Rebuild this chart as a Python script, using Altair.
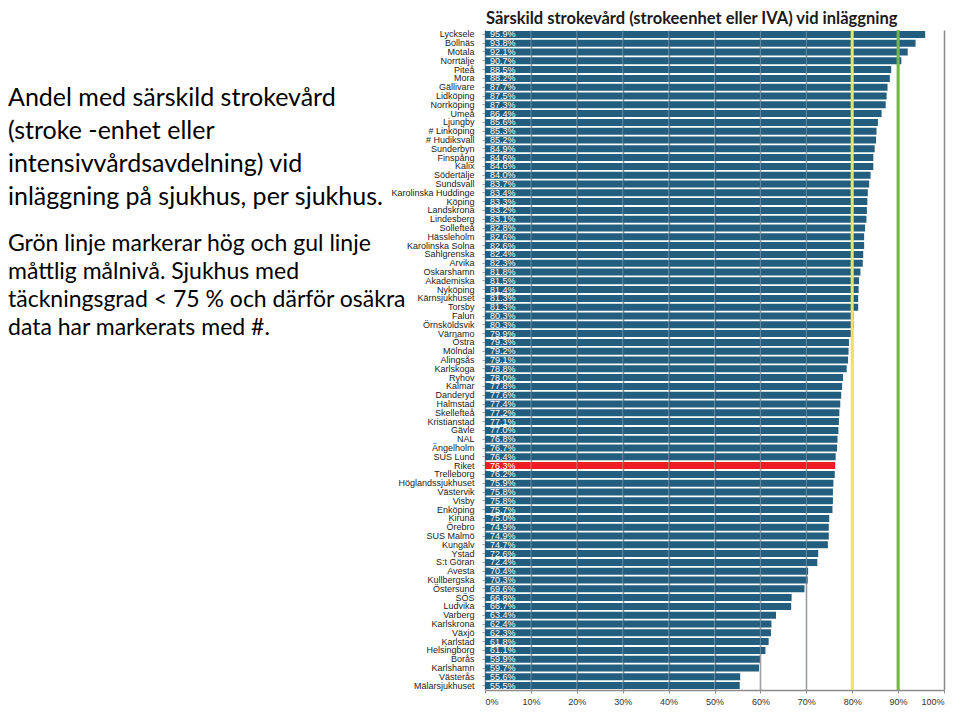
import altair as alt
import pandas as pd

hospitals = [
    "Lycksele", "Bollnäs", "Motala", "Norrtälje", "Piteå", "Mora", "Gällivare",
    "Lidköping", "Norrköping", "Umeå", "Ljungby", "# Linköping", "# Hudiksvall",
    "Sunderbyn", "Finspång", "Kalix", "Södertälje", "Sundsvall",
    "Karolinska Huddinge", "Köping", "Landskrona", "Lindesberg", "Sollefteå",
    "Hässleholm", "Karolinska Solna", "Sahlgrenska", "Arvika", "Oskarshamn",
    "Akademiska", "Nyköping", "Kärnsjukhuset", "Torsby", "Falun", "Örnsköldsvik",
    "Värnamo", "Östra", "Mölndal", "Alingsås", "Karlskoga", "Ryhov", "Kalmar",
    "Danderyd", "Halmstad", "Skellefteå", "Kristianstad", "Gävle", "NAL",
    "Ängelholm", "SUS Lund", "Riket", "Trelleborg", "Höglandssjukhuset",
    "Västervik", "Visby", "Enköping", "Kiruna", "Örebro", "SUS Malmö", "Kungälv",
    "Ystad", "S:t Göran", "Avesta", "Kullbergska", "Östersund", "SÖS", "Ludvika",
    "Varberg", "Karlskrona", "Växjö", "Karlstad", "Helsingborg", "Borås",
    "Karlshamn", "Västerås", "Mälarsjukhuset",
]
values = [
    95.9, 93.8, 92.1, 90.7, 88.5, 88.2, 87.7,
    87.5, 87.3, 86.4, 85.6, 85.3, 85.2,
    84.9, 84.6, 84.6, 84.0, 83.7,
    83.4, 83.3, 83.2, 83.1, 82.8,
    82.6, 82.6, 82.4, 82.3, 81.8,
    81.5, 81.4, 81.3, 81.3, 80.3, 80.3,
    79.9, 79.3, 79.2, 79.1, 78.8, 78.0, 77.8,
    77.6, 77.4, 77.2, 77.1, 77.0, 76.8,
    76.7, 76.4, 76.3, 76.2, 75.9,
    75.8, 75.8, 75.7, 75.0, 74.9, 74.9, 74.7,
    72.6, 72.4, 70.4, 70.3, 69.6, 66.8, 66.7,
    63.4, 62.4, 62.3, 61.8, 61.1, 59.9,
    59.7, 55.6, 55.5,
]
target_levels = ["måttlig", "hög"]
target_values = [80, 90]
tick_values = [0, 10, 20, 30, 40, 50, 60, 70, 80, 90, 100]

chart_title = "Särskild strokevård (strokeenhet eller IVA) vid inläggning"
side_text_1 = [
    "Andel med särskild strokevård",
    "(stroke -enhet eller",
    "intensivvårdsavdelning) vid",
    "inläggning på sjukhus, per sjukhus.",
]
side_text_2 = [
    "Grön linje markerar hög och gul linje",
    "måttlig målnivå. Sjukhus med",
    "täckningsgrad < 75 % och därför osäkra",
    "data har markerats med #.",
]

df = pd.DataFrame({"sjukhus": hospitals, "andel": values})
df["etikett"] = df["andel"].map(lambda v: f"{v:.1f}%")
targets = pd.DataFrame({"nivå": target_levels, "mål": target_values})
grid = pd.DataFrame({"t": tick_values[1:-1]})
one = pd.DataFrame({"a": [0]})

y = alt.Y(
    "sjukhus:N", sort=hospitals, title=None,
    scale=alt.Scale(paddingInner=0.2, paddingOuter=0.1),
    axis=alt.Axis(labelFontSize=9, labelFont="Liberation Sans", labelColor="#222222",
                  domain=False, ticks=True, tickColor="#a0a0a0", tickSize=3,
                  labelPadding=8, grid=False),
)
x = alt.X(
    "andel:Q", title=None, scale=alt.Scale(domain=[0, 100], nice=False),
    axis=alt.Axis(values=tick_values, labelExpr="datum.value + '%'",
                  labelFontSize=9, labelFont="Liberation Sans", labelColor="#333333",
                  grid=True, gridColor="#8c8c8c", gridWidth=1.5,
                  domain=True, domainColor="#8c8c8c", domainWidth=1.5,
                  tickColor="#8c8c8c", tickSize=3, labelPadding=4),
)

bars = alt.Chart(df).mark_bar().encode(
    x=x, y=y,
    color=alt.condition(alt.datum.sjukhus == "Riket", alt.value("#ee1d23"), alt.value("#245e7e")),
)
bar_labels = alt.Chart(df).mark_text(
    align="left", baseline="middle", dx=5, color="white", fontSize=9, font="Liberation Sans"
).encode(x=alt.value(0), y=y, text="etikett:N")

grid_overlay = alt.Chart(grid).mark_rule(color="#b8c4cc", opacity=0.45, strokeWidth=1).encode(
    x=alt.X("t:Q", scale=alt.Scale(domain=[0, 100], nice=False))
)

target_rules = alt.Chart(targets).mark_rule(strokeWidth=3).encode(
    x=alt.X("mål:Q", scale=alt.Scale(domain=[0, 100], nice=False)),
    color=alt.Color("nivå:N", scale=alt.Scale(domain=target_levels, range=["#f2e35c", "#72b843"]), legend=None),
)

title_text = alt.Chart(one).mark_text(
    text=chart_title, align="left", baseline="alphabetic", fontSize=16.5, fontWeight="bold",
    font="Lato", color="#1a1a1a"
).encode(x=alt.value(1), y=alt.value(-6))

side1 = alt.Chart(one).mark_text(
    text=side_text_1, align="left", baseline="alphabetic", fontSize=25, lineHeight=33,
    font="Lato", color="#000000"
).encode(x=alt.value(-477), y=alt.value(76))

side2 = alt.Chart(one).mark_text(
    text=side_text_2, align="left", baseline="alphabetic", fontSize=23, lineHeight=28,
    font="Lato", color="#000000"
).encode(x=alt.value(-477), y=alt.value(221))

chart = alt.layer(
    bars, bar_labels, grid_overlay, target_rules, title_text, side1, side2
).properties(
    width=459, height=660,
    padding={"left": 477, "top": 22, "right": 7, "bottom": 18},
    autosize=alt.AutoSizeParams(type="none"),
).configure_view(stroke=None)

chart.save("out.html", embed_options={"renderer": "svg", "actions": False})
